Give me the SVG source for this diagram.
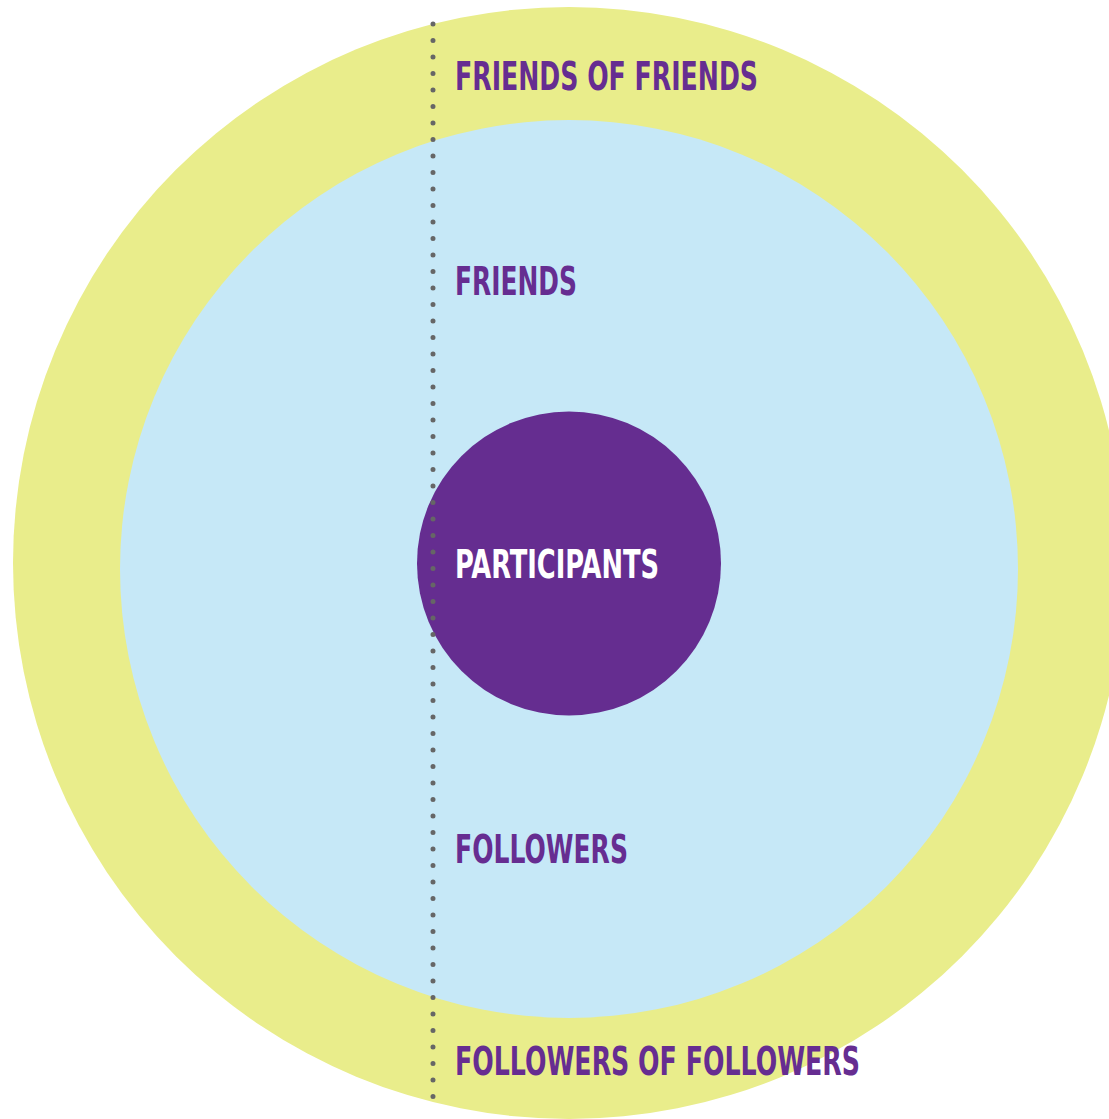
<svg xmlns="http://www.w3.org/2000/svg" width="1109" height="1119" viewBox="0 0 1109 1119">
<style>
.lbl{font-family:"DejaVu Sans Condensed","DejaVu Sans","Liberation Sans",sans-serif;font-stretch:condensed;font-weight:bold;font-size:39px;fill:#662D91}
.white{fill:#FFFFFF}
.dots{stroke:#666666;stroke-width:5;stroke-linecap:round;stroke-dasharray:0 16.5;fill:none}
</style>
<rect width="1109" height="1119" fill="#FFFFFF"/>
<g id="outer"><circle cx="569" cy="563" r="556" fill="#E9ED8B"/></g>
<g id="middle"><circle cx="569" cy="569" r="449" fill="#C6E8F7"/></g>
<g id="inner"><circle cx="569" cy="563.5" r="152" fill="#652D90"/></g>
<g id="connectors"><line class="dots" x1="433" y1="24" x2="433" y2="1102"/></g>
<g id="labels">
<text class="lbl" x="455" y="90" textLength="303" lengthAdjust="spacingAndGlyphs">FRIENDS OF FRIENDS</text>
<text class="lbl" x="455" y="295" textLength="122" lengthAdjust="spacingAndGlyphs">FRIENDS</text>
<text class="lbl white" x="455" y="578" textLength="204" lengthAdjust="spacingAndGlyphs">PARTICIPANTS</text>
<text class="lbl" x="455" y="863" textLength="173" lengthAdjust="spacingAndGlyphs">FOLLOWERS</text>
<text class="lbl" x="455" y="1075" textLength="405" lengthAdjust="spacingAndGlyphs">FOLLOWERS OF FOLLOWERS</text>
</g>
</svg>
